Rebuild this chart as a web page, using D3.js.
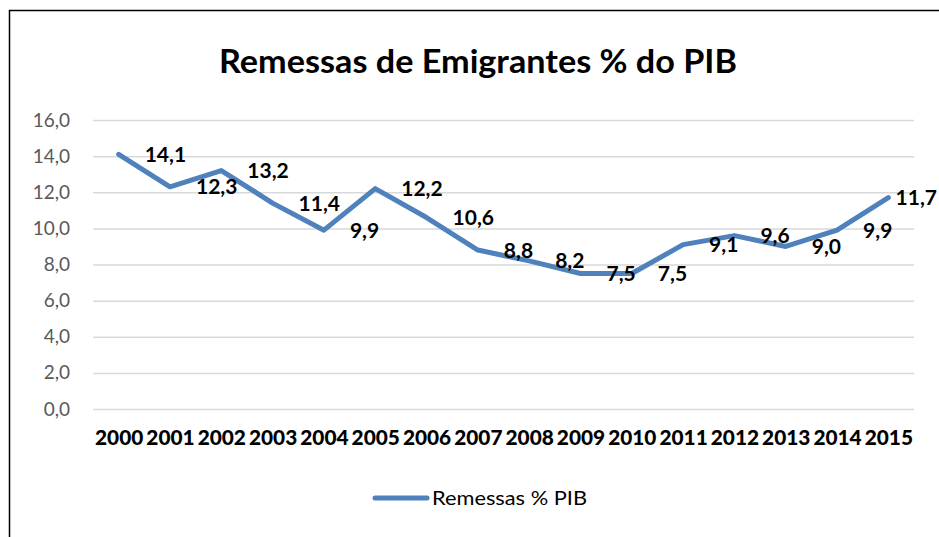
<!DOCTYPE html>
<html>
<head>
<meta charset="utf-8">
<script src="https://cdn.jsdelivr.net/npm/d3@7"></script>
<style>
  body { margin: 0; background: #fff; }
  svg { display: block; font-family: Lato, "Open Sans", sans-serif; }
</style>
</head>
<body>
<svg width="939" height="537"></svg>
<script>
const years = ['2000', '2001', '2002', '2003', '2004', '2005', '2006', '2007',
  '2008', '2009', '2010', '2011', '2012', '2013', '2014', '2015'];
const remessas = [14.1, 12.3, 13.2, 11.4, 9.9, 12.2, 10.6, 8.8, 8.2, 7.5, 7.5, 9.1, 9.6, 9.0, 9.9, 11.7];
const yTicks = [0, 2, 4, 6, 8, 10, 12, 14, 16];
const title = 'Remessas de Emigrantes % do PIB';
const seriesName = 'Remessas % PIB';

const W = 939;
const lineColor = '#4f81bd';
const pt = d3.formatLocale({ decimal: ',', thousands: '.', grouping: [3], currency: ['', ''] });
const fmt = pt.format('.1f');

const svg = d3.select('svg');

// chart frame (runs off the right and bottom edges)
svg.append('rect')
  .attr('x', 9.5).attr('y', 10.5)
  .attr('width', 960).attr('height', 560)
  .attr('fill', 'none')
  .attr('stroke', '#000')
  .attr('stroke-width', 1.5);

svg.append('text')
  .attr('x', 478).attr('y', 73)
  .attr('text-anchor', 'middle')
  .attr('font-size', 32)
  .attr('font-weight', 'bold')
  .attr('fill', '#000')
  .attr('textLength', 518)
  .attr('lengthAdjust', 'spacingAndGlyphs')
  .text(title);

const x = d3.scalePoint()
  .domain(years)
  .range([93, 914])
  .padding(0.5);

const y = d3.scaleLinear()
  .domain([0, 16])
  .range([409, 120]);

// gridlines + y labels
const yAxis = svg.append('g')
  .attr('class', 'y-axis')
  .attr('transform', 'translate(93,0)')
  .call(d3.axisLeft(y).tickValues(yTicks).tickFormat(fmt).tickSize(-821).tickPadding(23));
yAxis.select('.domain').remove();
yAxis.selectAll('line').attr('stroke', '#d9d9d9').attr('stroke-width', 1.5);
yAxis.selectAll('text')
  .attr('font-size', 19)
  .attr('fill', '#595959')
  .attr('font-family', 'Lato, sans-serif');

// x labels
const xAxis = svg.append('g')
  .attr('class', 'x-axis')
  .attr('transform', 'translate(0,409)')
  .call(d3.axisBottom(x).tickSize(0).tickPadding(22));
xAxis.select('.domain').remove();
xAxis.selectAll('text')
  .attr('font-size', 20)
  .attr('font-weight', 900)
  .attr('fill', '#000')
  .attr('font-family', 'Lato, sans-serif')
  .attr('textLength', x.step() - 3)
  .attr('lengthAdjust', 'spacingAndGlyphs');

const line = d3.line()
  .x((d, i) => x(years[i]))
  .y(d => y(d));

svg.append('path')
  .datum(remessas)
  .attr('d', line)
  .attr('fill', 'none')
  .attr('stroke', lineColor)
  .attr('stroke-width', 5)
  .attr('stroke-linejoin', 'round')
  .attr('stroke-linecap', 'round');

// data labels, placed right of each point
const labels = svg.append('g').attr('class', 'labels')
  .selectAll('text')
  .data(remessas)
  .join('text')
  .attr('x', (d, i) => x(years[i]) + 26)
  .attr('y', d => y(d))
  .attr('dy', '0.36em')
  .attr('font-size', 21)
  .attr('font-weight', 'bold')
  .attr('fill', '#000')
  .text(d => fmt(d));

labels.each(function() {
  const t = d3.select(this);
  const w = this.getComputedTextLength();
  const x0 = +t.attr('x');
  if (x0 + w > W - 2) t.attr('x', W - 2 - w);
});

// legend
const legend = svg.append('g').attr('class', 'legend');
legend.append('line')
  .attr('x1', 375).attr('x2', 427)
  .attr('y1', 498).attr('y2', 498)
  .attr('stroke', lineColor)
  .attr('stroke-width', 5)
  .attr('stroke-linecap', 'round');
legend.append('text')
  .attr('x', 432).attr('y', 498)
  .attr('dy', '0.36em')
  .attr('font-size', 20)
  .attr('fill', '#000')
  .attr('textLength', 155)
  .attr('lengthAdjust', 'spacingAndGlyphs')
  .text(seriesName);
</script>
</body>
</html>
